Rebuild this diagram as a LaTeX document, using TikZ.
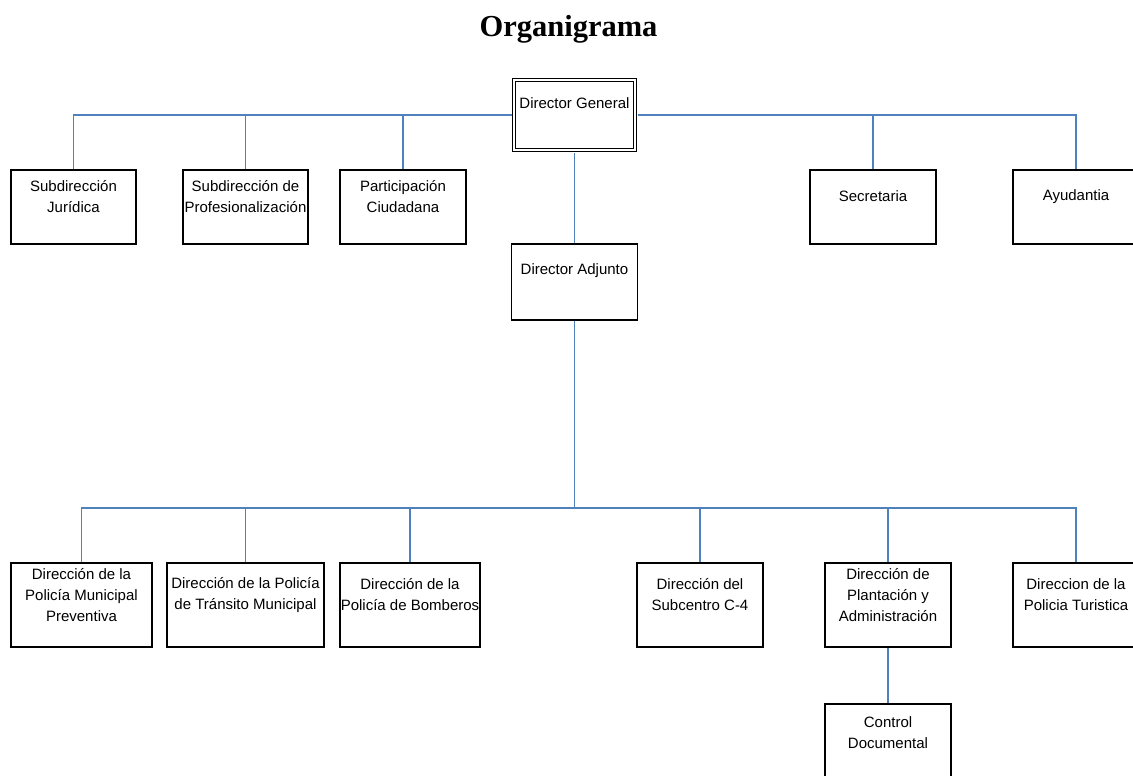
\documentclass[tikz,border=0pt]{standalone}
\usepackage{fontspec}
\setmainfont{Liberation Sans}
\newfontfamily\titulofont{Liberation Serif}
\usetikzlibrary{calc}
\definecolor{azul}{RGB}{79,129,189}

\begin{document}
\begin{tikzpicture}[x=1pt,y=-1pt,
		caja/.style={draw,line width=1.1pt,inner sep=0pt,minimum width=126pt,minimum height=74pt},
		cajabaja/.style={caja,minimum height=84pt},
		texto/.style={align=center,inner sep=0pt,font=\fontsize{15}{21}\selectfont},
		enlace/.style={draw=azul,line width=1.3pt}]
				\clip (0,0) rectangle (1133,776);

				\node[anchor=base,font=\titulofont\bfseries\fontsize{30.5}{36}\selectfont] (titulo) at (568.5,37) {Organigrama};

				\node[caja,double,double distance=2pt,line width=1pt,minimum width=121pt,minimum height=70pt] (general) at (574.5,115) {};
				\node[caja,minimum height=76pt] (adjunto) at (574.5,282) {};

				\node[caja,minimum width=125pt] (juridica) at (73.5,207) {};
				\node[caja,minimum width=125pt] (profesional) at (245.5,207) {};
				\node[caja] (participacion) at (403,207) {};
				\node[caja] (secretaria) at (873,207) {};
				\node[caja] (ayudantia) at (1076,207) {};

				\node[cajabaja,minimum width=141pt] (preventiva) at (81.5,605) {};
				\node[cajabaja,minimum width=157pt] (transito) at (245.5,605) {};
				\node[cajabaja,minimum width=140pt] (bomberos) at (410,605) {};
				\node[cajabaja] (subcentro) at (700,605) {};
				\node[cajabaja] (plantacion) at (888,605) {};
				\node[cajabaja] (turistica) at (1076,605) {};
				\node[cajabaja] (control) at (888,746) {};

				\node[texto] (general-t) at ($(general.north)+(0,24)$) {Director General};
				\node[texto] (adjunto-t) at ($(adjunto.north)+(0,27.5)$) {Director Adjunto};
				\node[texto] (juridica-t) at ($(juridica.north)+(0,27)$) {Subdirección\\Jurídica};
				\node[texto] (profesional-t) at ($(profesional.north)+(0,27)$) {Subdirección de\\Profesionalización};
				\node[texto] (participacion-t) at ($(participacion.north)+(0,27)$) {Participación\\Ciudadana};
				\node[texto] (secretaria-t) at ($(secretaria.north)+(0,27)$) {Secretaria};
				\node[texto] (ayudantia-t) at ($(ayudantia.north)+(0,27)$) {Ayudantia};
				\node[texto] (preventiva-t) at ($(preventiva.north)+(0,32.5)$) {Dirección de la\\Policía Municipal\\Preventiva};
				\node[texto] (transito-t) at ($(transito.north)+(0,32.5)$) {Dirección de la Policía\\de Tránsito Municipal};
				\node[texto] (bomberos-t) at ($(bomberos.north)+(0,32.5)$) {Dirección de la\\Policía de Bomberos};
				\node[texto] (subcentro-t) at ($(subcentro.north)+(0,32.5)$) {Dirección del\\Subcentro C-4};
				\node[texto] (plantacion-t) at ($(plantacion.north)+(0,32.5)$) {Dirección de\\Plantación y\\Administración};
				\node[texto] (turistica-t) at ($(turistica.north)+(0,32.5)$) {Direccion de la\\Policia Turistica};
				\node[texto] (control-t) at ($(control.north)+(0,29)$) {Control\\Documental};

				\coordinate (barra) at (574.5,508);

				\foreach \n in {juridica,profesional,participacion}
					\draw[enlace,shorten <=2pt] (general.west) -| (\n.north);
				\foreach \n in {secretaria,ayudantia}
					\draw[enlace,shorten <=2pt] (general.east) -| (\n.north);
				\draw[enlace,shorten <=2pt] (general.south) -- (adjunto.north);
				\draw[enlace] (adjunto.south) -- (barra);
				\foreach \n in {preventiva,transito,bomberos,subcentro,plantacion,turistica}
					\draw[enlace] (barra) -| (\n.north);
				\draw[enlace] (plantacion.south) -- (control.north);
			\end{tikzpicture}
\end{document}
